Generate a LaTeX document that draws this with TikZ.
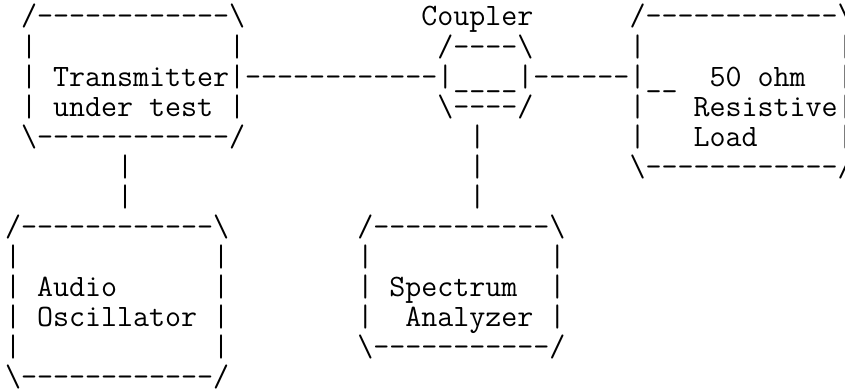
\documentclass[tikz,border=0pt]{standalone}
\usepackage{tikz}

\newcommand{\bsl}{\textbackslash}
\newcommand{\gap}[1]{\hspace*{\dimexpr#1\fontdimen2\font\relax}}

\tikzset{every picture/.style={line width=0.75pt}}
\tikzset{asc/.style={anchor=base west,inner sep=0pt,font=\fontsize{23.32pt}{24pt}\selectfont\ttfamily}}

\begin{document}
\begin{tikzpicture}[x=0.75pt,y=0.75pt,yscale=-1,xscale=1]
%set diagram left start at 0, and has height of 389
\useasboundingbox (0,0) rectangle (845,389);

% Text Node
\draw (4.5,26) node [asc] (l0) {\gap{1}/------------\bsl\gap{11}Coupler\gap{6}/------------\bsl};
% Text Node
\draw (4.5,56) node [asc] (l1) {\gap{1}|\gap{12}|\gap{12}/----\bsl\gap{6}|\gap{12}|};
% Text Node
\draw (4.5,86) node [asc] (l2) {\gap{1}|\gap{1}Transmitter|------------|\_\_\_\_|------|\_\_\gap{2}50\gap{1}ohm\gap{2}|};
% Text Node
\draw (4.5,116) node [asc] (l3) {\gap{1}|\gap{1}under\gap{1}test\gap{1}|\gap{12}\bsl----/\gap{6}|\gap{3}Resistive|};
% Text Node
\draw (4.5,146) node [asc] (l4) {\gap{1}\bsl------------/\gap{14}|\gap{9}|\gap{3}Load\gap{5}|};
% Text Node
\draw (4.5,176) node [asc] (l5) {\gap{7}|\gap{21}|\gap{9}\bsl------------/};
% Text Node
\draw (4.5,206) node [asc] (l6) {\gap{7}|\gap{21}|};
% Text Node
\draw (4.5,236) node [asc] (l7) {/------------\bsl\gap{8}/-----------\bsl};
% Text Node
\draw (4.5,266) node [asc] (l8) {|\gap{12}|\gap{8}|\gap{11}|};
% Text Node
\draw (4.5,296) node [asc] (l9) {|\gap{1}Audio\gap{6}|\gap{8}|\gap{1}Spectrum\gap{2}|};
% Text Node
\draw (4.5,326) node [asc] (l10) {|\gap{1}Oscillator\gap{1}|\gap{8}|\gap{2}Analyzer\gap{1}|};
% Text Node
\draw (4.5,356) node [asc] (l11) {|\gap{12}|\gap{8}\bsl-----------/};
% Text Node
\draw (4.5,386) node [asc] (l12) {\bsl------------/};
\end{tikzpicture}
\end{document}
